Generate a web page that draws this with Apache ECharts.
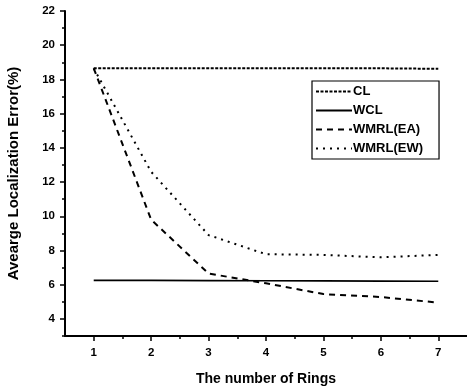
<!DOCTYPE html>
<html><head><meta charset="utf-8">
<script src="https://cdn.jsdelivr.net/npm/echarts@6/dist/echarts.min.js"></script>
<style>html,body{margin:0;padding:0;background:#fff}#c{width:467px;height:388px}</style>
</head><body><div id="c"></div>
<script>
var rings = [1, 2, 3, 4, 5, 6, 7];
var CL = [18.65, 18.65, 18.65, 18.65, 18.65, 18.65, 18.62];
var WCL = [6.25, 6.25, 6.24, 6.23, 6.22, 6.21, 6.2];
var WMRL_EA = [18.65, 9.8, 6.65, 6.08, 5.45, 5.28, 4.95];
var WMRL_EW = [18.65, 12.6, 8.9, 7.78, 7.74, 7.6, 7.74];
var yTickVals = [3,4,5,6,7,8,9,10,11,12,13,14,15,16,17,18,19,20,21,22];
var xTickVals = [0.5,1,1.5,2,2.5,3,3.5,4,4.5,5,5.5,6,6.5,7,7.5];

function pairs(v){ return rings.map(function(r,i){ return [r, v[i]]; }); }
var font = 'Liberation Sans, Arial, sans-serif';
var chart = echarts.init(document.getElementById('c'));
var lineCommon = {type:'line', symbol:'none', xAxisIndex:0, yAxisIndex:0, animation:false};
chart.setOption({
  animation:false,
  grid:{left:65, right:0, top:11, bottom:52, containLabel:false, outerBoundsMode:'none'},
  legend:{
    orient:'vertical', left:312, top:81,
    backgroundColor:'#fff', borderColor:'#000', borderWidth:1.2,
    padding:[4, 16, 4, 3], itemGap:6, itemWidth:36, itemHeight:13,
    itemStyle:{opacity:0},
    textStyle:{fontFamily:font, fontWeight:'bold', fontSize:13, color:'#000', padding:[0,0,0,-4]},
    data:['CL','WCL','WMRL(EA)','WMRL(EW)']
  },
  xAxis:[{
    type:'value', min:0.5, max:7.5, interval:0.5,
    name:'The number of Rings', nameLocation:'middle', nameGap:36,
    nameTextStyle:{fontFamily:font, fontWeight:'bold', fontSize:14, color:'#000'},
    axisLine:{show:true, lineStyle:{color:'#000', width:2}},
    axisTick:{show:true, length:3, lineStyle:{color:'#000', width:1.5}},
    axisLabel:{fontFamily:font, fontWeight:'bold', fontSize:11.5, color:'#000', margin:11,
      showMinLabel:false, showMaxLabel:false,
      formatter:function(v){ return (Math.abs(v - Math.round(v)) < 1e-6) ? String(Math.round(v)) : ''; }},
    splitLine:{show:false}
  },{
    type:'category', data:xTickVals, boundaryGap:false, position:'bottom',
    axisLine:{show:false},
    axisTick:{show:true, length:5, lineStyle:{color:'#000', width:1.5},
      interval:function(i, v){ return Number(v) % 1 === 0; }},
    axisLabel:{show:false}, splitLine:{show:false}
  }],
  yAxis:[{
    type:'value', min:3, max:22, interval:1,
    name:'Avearge Localization Error(%)', nameLocation:'middle', nameGap:44,
    nameTextStyle:{fontFamily:font, fontWeight:'bold', fontSize:15, color:'#000'},
    axisLine:{show:true, lineStyle:{color:'#000', width:2}},
    axisTick:{show:true, length:3, lineStyle:{color:'#000', width:1.5}},
    axisLabel:{fontFamily:font, fontWeight:'bold', fontSize:11.5, color:'#000', margin:10,
      formatter:function(v){ return (v % 2 === 0) ? String(v) : ''; }},
    splitLine:{show:false}
  },{
    type:'category', data:yTickVals, boundaryGap:false, position:'left',
    axisLine:{show:false},
    axisTick:{show:true, length:5, lineStyle:{color:'#000', width:1.5},
      interval:function(i, v){ return Number(v) % 2 === 0; }},
    axisLabel:{show:false}, splitLine:{show:false}
  }],
  series:[
    Object.assign({}, lineCommon, {name:'CL', data:pairs(CL), itemStyle:{color:'#000'}, lineStyle:{color:'#000', width:2, type:[3,1.5]}}),
    Object.assign({}, lineCommon, {name:'WCL', data:pairs(WCL), itemStyle:{color:'#000'}, lineStyle:{color:'#000', width:1.6, type:'solid'}}),
    Object.assign({}, lineCommon, {name:'WMRL(EA)', data:pairs(WMRL_EA), itemStyle:{color:'#000'}, lineStyle:{color:'#000', width:2, type:[6,5]}}),
    Object.assign({}, lineCommon, {name:'WMRL(EW)', data:pairs(WMRL_EW), itemStyle:{color:'#000'}, lineStyle:{color:'#000', width:2, type:[2,5]}})
  ]
});
</script></body></html>
